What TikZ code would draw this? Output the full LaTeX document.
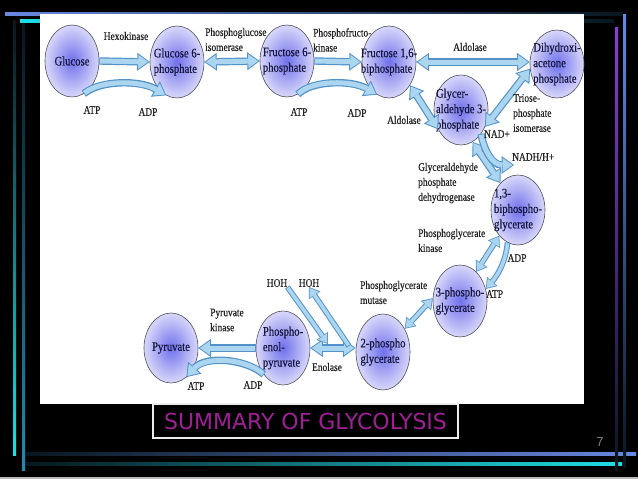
\documentclass[tikz,border=0pt]{standalone}
\usepackage{fontspec}
\setmainfont{Liberation Serif}[FakeStretch=0.82,FakeBold=0.35]
\newfontfamily\capfont{DejaVu Sans}
\newfontfamily\numfont{Liberation Sans}
\usetikzlibrary{arrows.meta,shapes.geometric,positioning}
\definecolor{ballIn}{RGB}{112,112,236}
\definecolor{ballOut}{RGB}{216,216,250}
\definecolor{ringGray}{RGB}{80,80,96}
\definecolor{ballInk}{RGB}{22,22,62}
\definecolor{tagInk}{RGB}{35,35,35}
\definecolor{arrFill}{RGB}{172,214,240}
\definecolor{arrEdge}{RGB}{82,146,200}
\definecolor{barBlue}{RGB}{104,136,226}
\definecolor{barCyan}{RGB}{30,222,230}
\definecolor{barTeal}{RGB}{30,140,182}
\definecolor{barPurple}{RGB}{140,60,212}
\definecolor{capPurple}{RGB}{160,30,150}
\definecolor{deepDark}{RGB}{8,22,30}

\tikzset{
  pool/.style={ellipse, draw=ringGray, line width=0.6pt, inner color=ballIn, outer color=ballOut,
    minimum width=54pt, minimum height=72pt, inner sep=-14pt, align=left, text=ballInk,
    font=\fontsize{13}{15.5}\selectfont},
  tag/.style={align=left, text=tagInk, inner sep=0pt, font=\fontsize{11.5}{15}\selectfont},
  flow/.style={draw=arrFill, line width=5pt, shorten >=1.5pt, shorten <=0.8pt,
    -{Triangle[length=10pt,width=14pt,line width=0pt]},
    preaction={draw=arrEdge, line width=7.4pt, shorten >=0pt, shorten <=0pt,
      -{Triangle[length=12.5pt,width=18pt,line width=0pt]}}},
  flow2/.style={draw=arrFill, line width=5pt, shorten >=1.5pt, shorten <=1.5pt,
    {Triangle[length=10pt,width=14pt,line width=0pt]}-{Triangle[length=10pt,width=14pt,line width=0pt]},
    preaction={draw=arrEdge, line width=7.4pt, shorten >=0pt, shorten <=0pt,
      {Triangle[length=12.5pt,width=18pt,line width=0pt]}-{Triangle[length=12.5pt,width=18pt,line width=0pt]}}},
  slimflow/.style={draw=arrFill, line width=3.6pt, shorten >=1.3pt, shorten <=0.8pt,
    -{Triangle[length=8pt,width=11pt,line width=0pt]},
    preaction={draw=arrEdge, line width=5.6pt, shorten >=0pt, shorten <=0pt,
      -{Triangle[length=10pt,width=14pt,line width=0pt]}}},
  slim2/.style={draw=arrFill, line width=3.6pt, shorten >=1.3pt, shorten <=1.3pt,
    {Triangle[length=8pt,width=11pt,line width=0pt]}-{Triangle[length=8pt,width=11pt,line width=0pt]},
    preaction={draw=arrEdge, line width=5.6pt, shorten >=0pt, shorten <=0pt,
      {Triangle[length=10pt,width=14pt,line width=0pt]}-{Triangle[length=10pt,width=14pt,line width=0pt]}}}
}

\begin{document}
\begin{tikzpicture}[x=1pt,y=-1pt]
\useasboundingbox (0,0) rectangle (638,479);
\fill[black] (0,0) rectangle (638,479);
\fill[gray!55] (0,476.5) rectangle (638,479);

% frame bars
\shade[left color=barBlue, right color=deepDark] (5,12.5) rectangle (622,15.5);
\shade[left color=barCyan, right color=deepDark] (20,19.5) rectangle (614,22.5);
\shade[top color=deepDark, bottom color=barCyan] (13,20) rectangle (16,455);
\shade[top color=deepDark, bottom color=barTeal] (22,23) rectangle (25,470);
\shade[left color=deepDark, right color=barBlue] (25,452) rectangle (636,455.5);
\shade[left color=deepDark, right color=barCyan] (25,462) rectangle (622,465.5);
\shade[top color=barPurple, bottom color=deepDark] (615,27) rectangle (618,470);
\shade[top color=barBlue, bottom color=deepDark] (623,14) rectangle (626,467);

% slide panel
\fill[white] (40,14) rectangle (584,404);

% metabolites
\node[pool] (glc) at (72,61) {Glucose};
\node[pool] (g6p) at (177,62) {Glucose 6-\\phosphate};
\node[pool] (f6p) at (287,61) {Fructose 6-\\phosphate};
\node[pool] (f16) at (389,62) {Fructose 1,6-\\biphosphate};
\node[pool, minimum height=68pt] (dhap) at (557,64) {Dihydroxi-\\acetone\\phosphate};
\node[pool, minimum height=70pt] (gap) at (461,110) {Glycer-\\aldehyde 3-\\phosphate};
\node[pool, minimum height=70pt] (bpg) at (518,210) {1,3-\\biphospho-\\glycerate};
\node[pool] (pg3) at (460,301) {3-phospho-\\glycerate};
\node[pool, minimum height=76pt] (pg2) at (383,352) {2-phospho\\glycerate};
\node[pool, minimum height=74pt] (pep) at (283,348) {Phospho-\\enol-\\pyruvate};
\node[pool, minimum height=70pt] (pyr) at (171,348) {Pyruvate};

% reactions
\draw[flow] (glc.east) -- (g6p.west);
\draw[flow2] (g6p.east) -- (f6p.west);
\draw[flow] (f6p.east) -- (f16.west);
\draw[flow2] (f16.east) -- (f16.east -| dhap.west);
\draw[flow2] (dhap.190) -- (gap.-35);
\draw[flow2] (f16.-48) -- (gap.220);
\draw[flow2] (gap.-70) -- (bpg.123);
\coordinate (nadEnd) at (514,165);
\draw[flow] (gap.-50) .. controls (484,150) and (492,165) .. (nadEnd);
\draw[slim2] (bpg.234) -- (pg3.61);
\draw[slimflow] (bpg.252) .. controls (506,262) and (497,276) .. (pg3.25);
\draw[slim2] (pg3.174) -- (pg2.47);
\draw[flow2] (pep.east) -- (pep.east -| pg2.west);
\coordinate (enoA) at (328,344);
\coordinate (enoB) at (349,346);
\draw[flow] (pep.west) -- (pyr.east);

% cofactors
\draw[flow] (glc.-70) .. controls (100,80) and (140,80) .. (g6p.-108);
\draw[flow] (f6p.-72) .. controls (312,80) and (352,80) .. (f16.-110);
\draw[flow] (pep.234) .. controls (245,358) and (205,356) .. (pyr.-62);

% labels
\node[tag] (hexo) at (126,36) {Hexokinase};
\node[tag] (atpA) at (92,110) {ATP};
\node[tag] (adpA) at (148,112) {ADP};
\node[tag, anchor=west] (pgi) at (205,39.5) {Phosphoglucose\\isomerase};
\node[tag, anchor=west] (pfk) at (313,40) {Phosphofructo-\\kinase};
\node[tag] (atpB) at (299,112) {ATP};
\node[tag] (adpB) at (357,113) {ADP};
\node[tag] (aldA) at (470,47) {Aldolase};
\node[tag] (aldB) at (404,120) {Aldolase};
\node[tag, anchor=west] (tpi) at (513,113) {Triose-\\phosphate\\isomerase};
\node[tag] (nad) at (497,134) {NAD+};
\node[tag, anchor=west] (nadh) at (512,157) {NADH/H+};
\node[tag, anchor=west] (gapdh) at (418,183) {Glyceraldehyde\\phosphate\\dehydrogenase};
\node[tag, anchor=west] (pgk) at (418,240.5) {Phosphoglycerate\\kinase};
\node[tag] (adpC) at (517,258) {ADP};
\node[tag, anchor=west] (atpC) at (486,294) {ATP};
\node[tag, anchor=west] (pgm) at (360,292.5) {Phosphoglycerate\\mutase};
\node[tag] (hohA) at (277,283) {HOH};
\node[tag] (hohB) at (309,283) {HOH};
\node[tag, anchor=west] (pk) at (210,320) {Pyruvate\\kinase};
\node[tag] (eno) at (327,367) {Enolase};
\node[tag] (atpD) at (196,386) {ATP};
\node[tag] (adpD) at (253,385) {ADP};

% water in and out
\draw[slimflow] (hohA.south east) -- (enoA);
\draw[slimflow] (enoB) -- (hohB.south);

% caption
\node[draw=gray!15, line width=1.5pt, fill=black, minimum width=305pt, minimum height=34pt,
  inner sep=0pt, text=capPurple, font=\capfont\fontsize{22}{22}\selectfont] (cap) at (305.5,421)
  {SUMMARY OF GLYCOLYSIS};
\node[text=gray, font=\numfont\fontsize{13}{13}\selectfont] (pgnum) at (600,442) {7};
\end{tikzpicture}
\end{document}
